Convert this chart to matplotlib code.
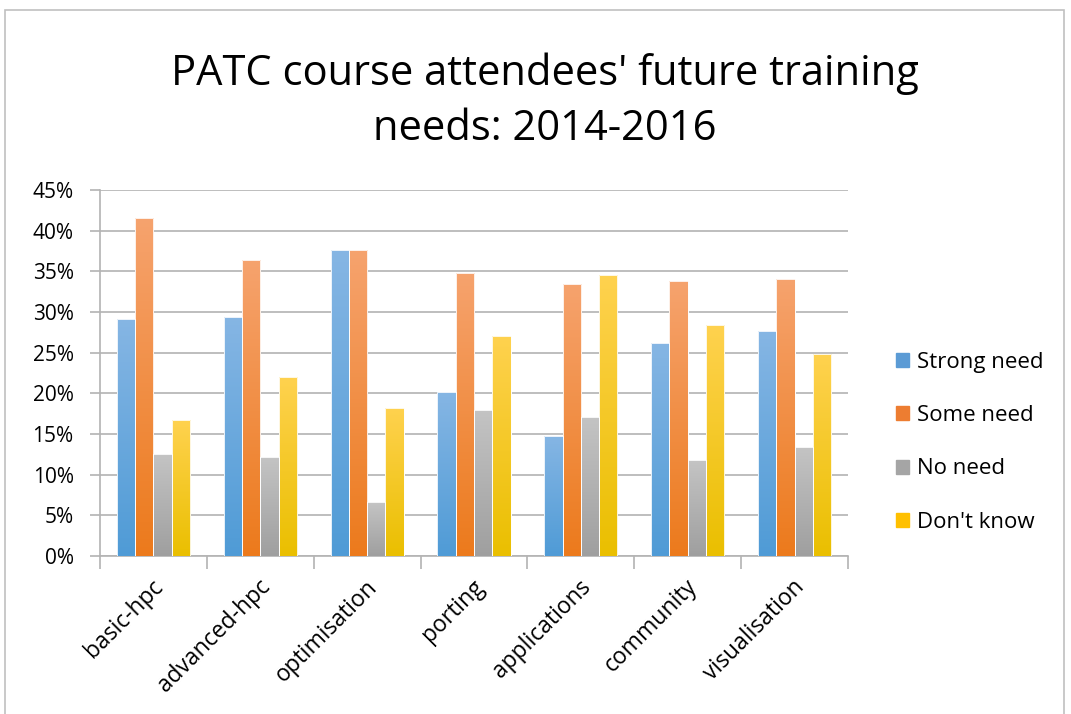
import numpy as np
import matplotlib
matplotlib.use("Agg")
import matplotlib.pyplot as plt
from matplotlib.patches import Rectangle
from matplotlib.colors import LinearSegmentedColormap
from matplotlib.ticker import PercentFormatter
from matplotlib.transforms import offset_copy

categories = ["basic-hpc", "advanced-hpc", "optimisation", "porting",
              "applications", "community", "visualisation"]
series = ["Strong need", "Some need", "No need", "Don't know"]
strong_need = [29.2, 29.4, 37.6, 20.2, 14.8, 26.2, 27.7]
some_need = [41.5, 36.4, 37.6, 34.8, 33.5, 33.8, 34.1]
no_need = [12.6, 12.2, 6.6, 18.0, 17.1, 11.8, 13.4]
dont_know = [16.7, 22.0, 18.2, 27.1, 34.6, 28.4, 24.8]
values = [strong_need, some_need, no_need, dont_know]

top_colors = ["#86b6e4", "#f6a36e", "#c4c4c4", "#ffd24f"]
bottom_colors = ["#4f9bd6", "#ec7a1c", "#9f9f9f", "#eabf00"]
legend_colors = ["#5b9bd5", "#ed7d31", "#a5a5a5", "#ffc000"]

plt.rcParams['font.family'] = ['Open Sans', 'DejaVu Sans']

fig = plt.figure(figsize=(10.71, 7.14), dpi=100)
ax = fig.add_axes([100/1071, 1-556/714, 748/1071, 366/714])

n = len(categories)
x = np.arange(n)
bw = 0.171
for i, (vals, tc, bc) in enumerate(zip(values, top_colors, bottom_colors)):
    offs = (i - 1.5) * bw
    bars = ax.bar(x + offs, vals, bw, color=bc, edgecolor="white",
                  linewidth=0.6, zorder=3, label=series[i])
    cmap = LinearSegmentedColormap.from_list("g%d" % i, [bc, tc])
    grad = np.linspace(0, 1, 256).reshape(-1, 1)
    for b in bars:
        x0, y0 = b.get_x(), b.get_y()
        w, h = b.get_width(), b.get_height()
        im = ax.imshow(grad, cmap=cmap, origin="lower", aspect="auto",
                       extent=[x0, x0 + w, y0, y0 + h], zorder=3.5,
                       interpolation="bilinear")
        im.set_clip_path(b)
        b2 = Rectangle((x0, y0), w, h, fill=False, edgecolor="white",
                       linewidth=0.6, zorder=4)
        ax.add_patch(b2)

ax.set_xlim(-0.5, n - 0.5)
ax.set_ylim(0, 45)
ax.set_yticks(np.arange(0, 46, 5))
ax.yaxis.set_major_formatter(PercentFormatter(decimals=0))
ax.grid(axis="y", color="#b3b3b3", linewidth=1.2, zorder=0)
ax.set_axisbelow(True)

ax.set_xticks(np.arange(-0.5, n, 1.0))
ax.set_xticklabels([])
ax.tick_params(axis="x", which="major", length=9, color="#b3b3b3", width=1.2)
ax.tick_params(axis="y", length=7, color="#b3b3b3", width=1.2, labelsize=15,
               pad=12)

# category labels, rotated, right end anchored just below axis near centre
trans = offset_copy(ax.get_xaxis_transform(), fig=fig, x=-2, y=-19,
                    units="dots")
for xi, cat in zip(x, categories):
    ax.text(xi, 0, cat, transform=trans, rotation=45, ha="right", va="top",
            rotation_mode="anchor", fontsize=16.5)

for s in ["top", "right"]:
    ax.spines[s].set_visible(False)
ax.spines["left"].set_color("#b3b3b3")
ax.spines["bottom"].set_color("#b3b3b3")
ax.spines["left"].set_linewidth(1.2)
ax.spines["bottom"].set_linewidth(1.2)

handles = [Rectangle((0, 0), 1, 1, color=c) for c in legend_colors]
leg = fig.legend(handles, series, loc="upper left",
                 bbox_to_anchor=(876/1071, 1-332/714), frameon=False,
                 fontsize=16, handlelength=0.6, handleheight=0.6,
                 handletextpad=0.35, labelspacing=1.45)

fig.text(545/1071, 1-74/714, "PATC course attendees' future training",
         ha="center", va="center", fontsize=30)
fig.text(545/1071, 1-129/714, "needs: 2014-2016",
         ha="center", va="center", fontsize=30)

fig.patches.append(Rectangle((5/1071, -0.05), 1059/1071, 1.05 - 10/714,
                             transform=fig.transFigure, fill=False,
                             edgecolor="#c0c0c0", linewidth=1.2))

fig.savefig("out.png", dpi=100)
